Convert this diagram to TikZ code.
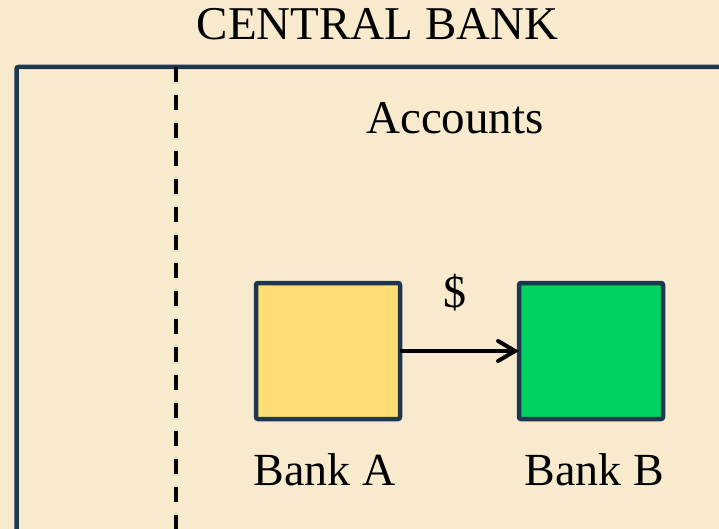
\documentclass[tikz,border=0pt]{standalone}
\usepackage{fontspec}
\setmainfont{Liberation Serif}
\usetikzlibrary{arrows.meta}
\definecolor{paper}{HTML}{F8EACC}
\definecolor{navy}{HTML}{1F3651}
\definecolor{banka}{HTML}{FFDD75}
\definecolor{bankb}{HTML}{00D25F}
\tikzset{
  label text/.style={font=\fontsize{47}{56}\selectfont, anchor=base, inner sep=0pt},
  small label/.style={label text, font=\fontsize{46}{55}\selectfont},
  bankbox/.style={draw=navy, line width=4.5pt, rounded corners=2pt,
    minimum width=144pt, minimum height=136pt, inner sep=0pt, outer sep=0pt},
  transfer/.style={draw=black, line width=4pt, -{Straight Barb[length=17pt,width=20pt,line cap=round]}}
}
\begin{document}
\begin{tikzpicture}[x=1pt,y=-1pt]
  \useasboundingbox (0,0) rectangle (719,529);
  \fill[paper] (0,0) rectangle (719,529);
  \begin{scope}
    \clip (0,0) rectangle (719,529);
    % central bank frame, running past the right and bottom edges
    \draw[navy, line width=4.5pt, rounded corners=2pt] (16.5,67) rectangle (760,580);
    % separator
    \draw[black, line width=4.5pt, dash pattern=on 15pt off 13pt] (176,67) -- (176,540);
  \end{scope}

  \node[label text] (title) at (377.5,40) {CENTRAL BANK};
  \node[label text] (accounts) at (455,134) {Accounts};

  \node[bankbox, fill=banka] (a) at (328,351) {};
  \node[bankbox, fill=bankb] (b) at (591,351) {};

  \draw[transfer] (a.east) -- (b.west);
  \node[small label] (dollar) at (455,307) {\$};

  \node[small label] (la) at (324.5,485) {Bank A};
  \node[small label] (lb) at (594.5,485) {Bank B};
\end{tikzpicture}
\end{document}
